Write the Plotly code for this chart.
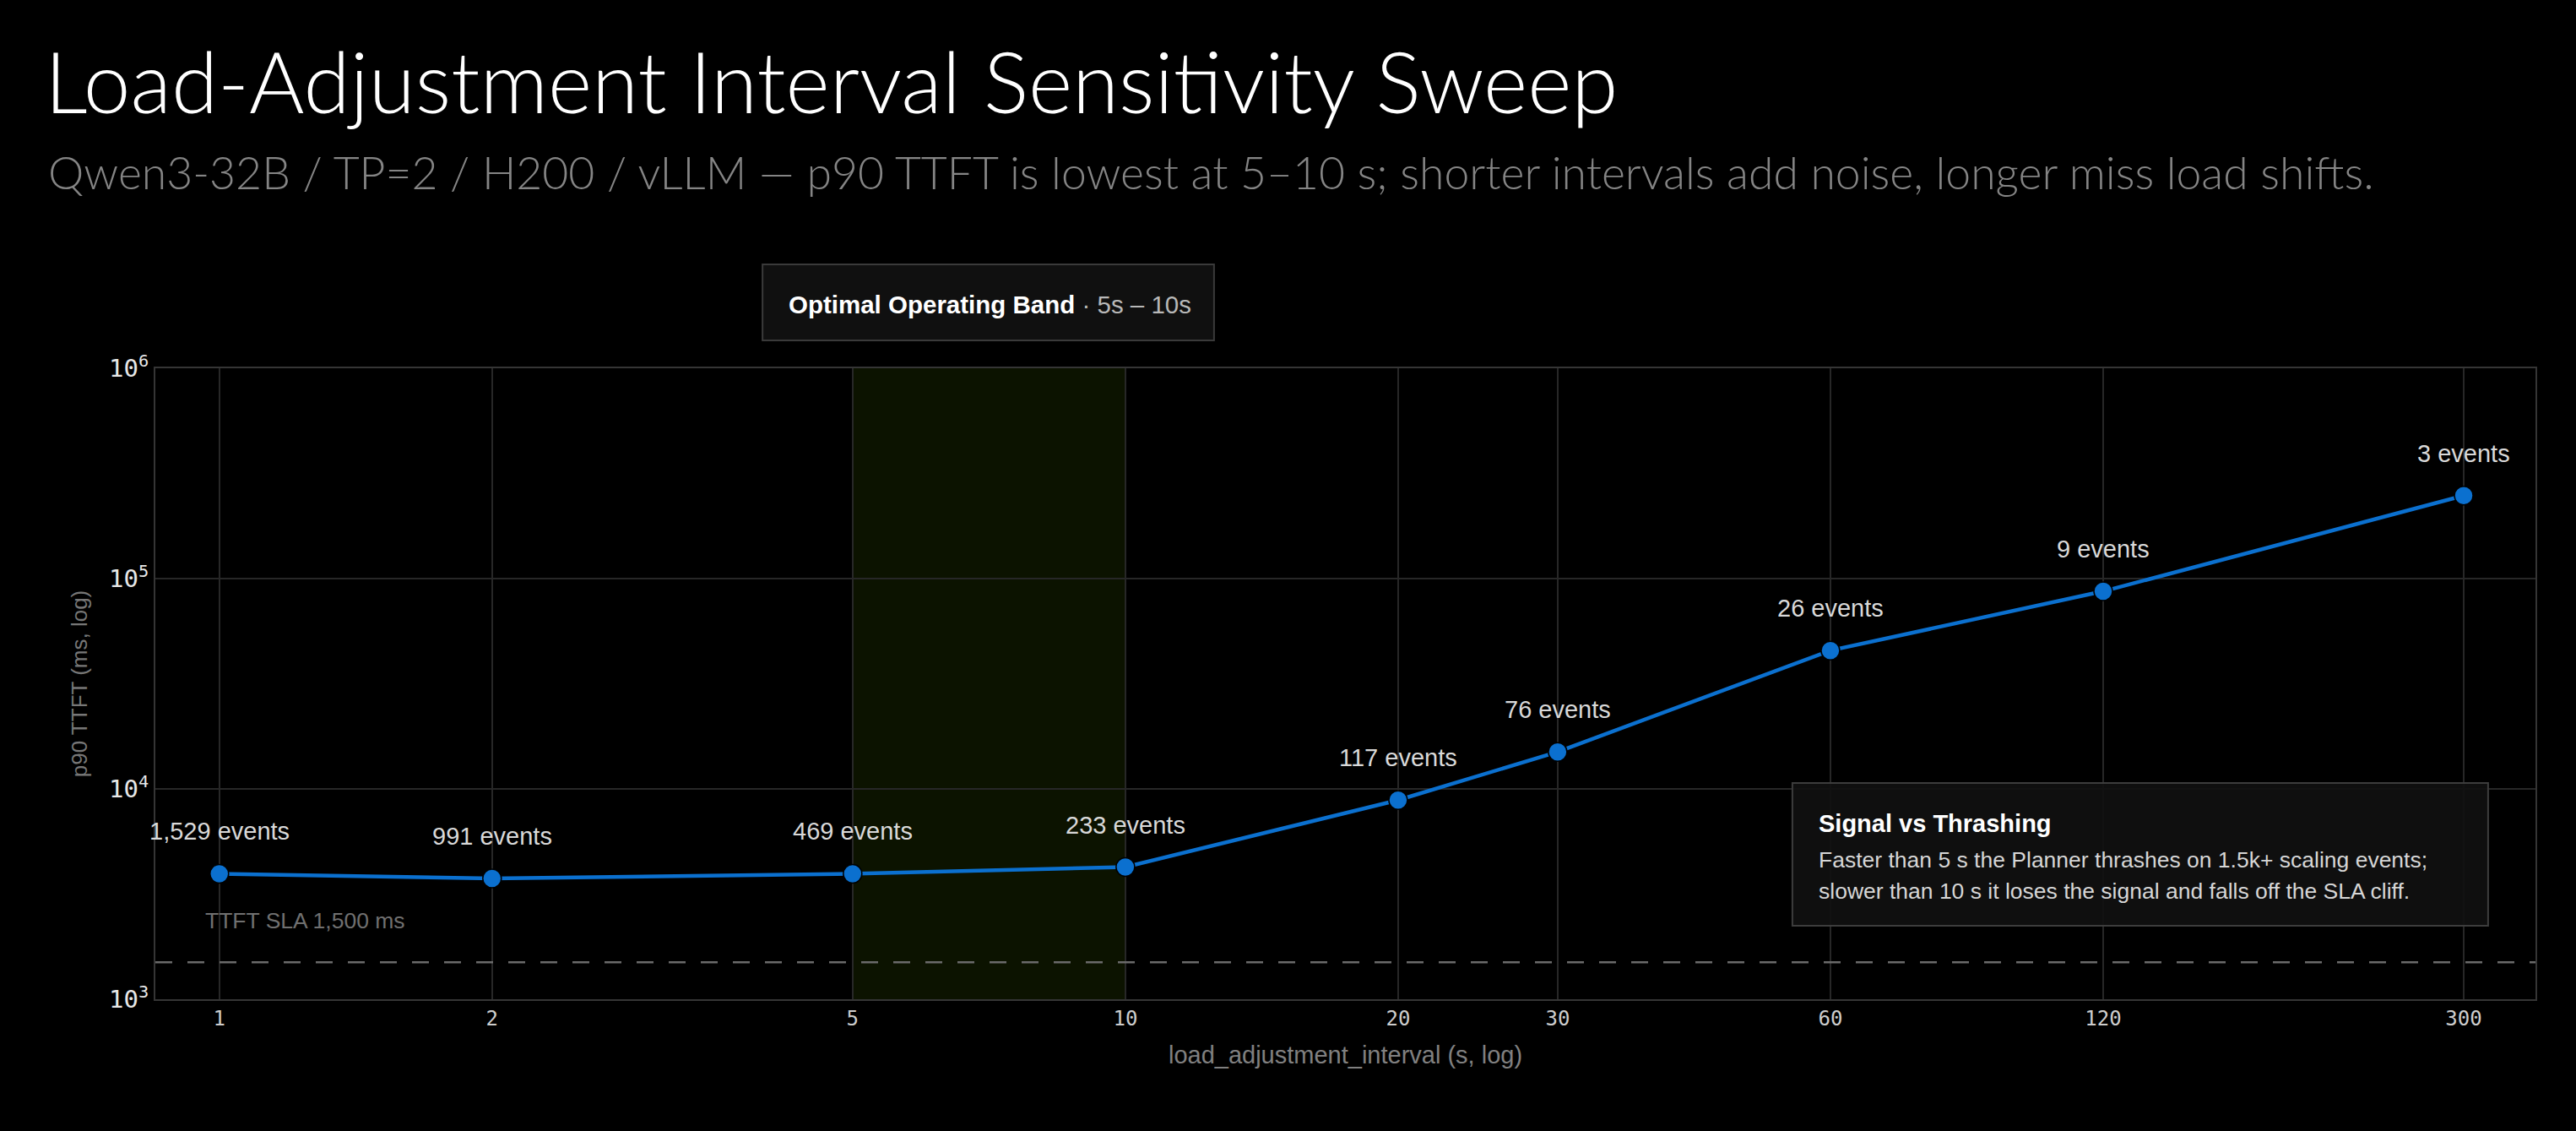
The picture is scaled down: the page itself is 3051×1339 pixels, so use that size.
import math
import plotly.graph_objects as go

# ---------------- data ----------------
intervals_s = [1, 2, 5, 10, 20, 30, 60, 120, 300]
p90_ttft_ms = [3950, 3750, 3950, 4250, 8850, 15000, 45500, 87000, 248000]
scaling_events = [1529, 991, 469, 233, 117, 76, 26, 9, 3]

x_tick_vals = [1, 2, 5, 10, 20, 30, 60, 120, 300]
x_tick_text = ["1", "2", "5", "10", "20", "30", "60", "120", "300"]
y_tick_vals = [1e3, 1e4, 1e5, 1e6]
y_tick_text = ["10<sup>3</sup>", "10<sup>4</sup>", "10<sup>5</sup>", "10<sup>6</sup>"]

sla_ms = 1500
band_s = [5, 10]

title_text = "Load-Adjustment Interval Sensitivity Sweep"
subtitle_text = ("Qwen3-32B / TP=2 / H200 / vLLM — p90 TTFT is lowest at 5–10 s; "
                 "shorter intervals add noise, longer miss load shifts.")
band_title = "Optimal Operating Band"
band_sub = " · 5s – 10s"
note_title = "Signal vs Thrashing"
note_lines = ["Faster than 5 s the Planner thrashes on 1.5k+ scaling events;",
              "slower than 10 s it loses the signal and falls off the SLA cliff."]

# ---------------- style ----------------
W, H = 3051, 1339
BODY = "Liberation Sans, Arial, sans-serif"
MONO = "DejaVu Sans Mono, monospace"
THIN = "Lato, Inter, sans-serif"
BLUE = "#0b70cf"
GRID = "#272727"
FRAME = "#353535"

fig = go.Figure()

fig.add_trace(go.Scatter(
    x=intervals_s, y=p90_ttft_ms, mode="lines+markers",
    line=dict(color=BLUE, width=4.5),
    marker=dict(size=22, color=BLUE, line=dict(color="#000000", width=1.5)),
    hoverinfo="skip", showlegend=False,
))

shapes = [
    # optimal band
    dict(type="rect", xref="x", yref="paper", x0=band_s[0], x1=band_s[1], y0=0, y1=1,
         fillcolor="rgba(118,185,0,0.10)", line=dict(width=0), layer="below"),
    # SLA line
    dict(type="line", xref="paper", yref="y", x0=0, x1=1, y0=sla_ms, y1=sla_ms,
         line=dict(color="#6a6a6a", width=2.5, dash="20px,18px"), layer="above"),
    # band label box
    dict(type="rect", xref="paper", yref="paper", x0=0.2551, x1=0.4448, y0=1.0442, y1=1.1647,
         fillcolor="#101010", line=dict(color="#3a3a3a", width=2), layer="above"),
    # note box
    dict(type="rect", xref="paper", yref="paper", x0=0.6878, x1=0.9801, y0=0.1165, y1=0.3427,
         fillcolor="rgba(16,16,16,0.92)", line=dict(color="#3d3d3d", width=2), layer="above"),
]

annotations = []
# data labels
for xv, yv, n in zip(intervals_s, p90_ttft_ms, scaling_events):
    annotations.append(dict(
        x=math.log10(xv), y=math.log10(yv), xref="x", yref="y",
        text=f"{n:,} events", showarrow=False, yshift=50,
        xanchor="center", yanchor="middle",
        font=dict(family=BODY, size=29, color="#d9d9d9"),
    ))
# SLA label
annotations.append(dict(
    x=0.0202, xref="paper", y=math.log10(sla_ms), yref="y", yshift=49,
    text=f"TTFT SLA {sla_ms:,} ms", showarrow=False, xanchor="left", yanchor="middle",
    font=dict(family=BODY, size=26.5, color="#707070"),
))
# band label
annotations.append(dict(
    x=0.3505, y=1.1017, xref="paper", yref="paper", showarrow=False,
    xanchor="center", yanchor="middle",
    text=f"<b>{band_title}</b><span style='color:#b8b8b8'>{band_sub}</span>",
    font=dict(family=BODY, size=29.5, color="#ffffff"),
))
# note box text
annotations.append(dict(
    x=0.6981, y=0.2784, xref="paper", yref="paper", showarrow=False,
    xanchor="left", yanchor="middle", text=f"<b>{note_title}</b>",
    font=dict(family=BODY, size=29, color="#ffffff"),
))
for yy, line in zip([0.2209, 0.1713], note_lines):
    annotations.append(dict(
        x=0.6981, y=yy, xref="paper", yref="paper", showarrow=False,
        xanchor="left", yanchor="middle", text=line,
        font=dict(family=BODY, size=26.5, color="#d6d6d6"),
    ))
# title & subtitle
annotations.append(dict(
    x=-0.0472, y=1.4565, xref="paper", yref="paper", showarrow=False,
    xanchor="left", yanchor="middle", text=title_text,
    font=dict(family=THIN, size=100, color="#ffffff", weight=300),
))
annotations.append(dict(
    x=-0.0458, y=1.3119, xref="paper", yref="paper", showarrow=False,
    xanchor="left", yanchor="middle", text=subtitle_text,
    font=dict(family=THIN, size=53.5, color="#858585", weight=300),
))

fig.update_layout(
    width=W, height=H,
    margin=dict(l=184, r=48, t=436, b=156, autoexpand=False),
    paper_bgcolor="#000000", plot_bgcolor="#000000",
    shapes=shapes, annotations=annotations,
    xaxis=dict(
        type="log", range=[math.log10(0.85), math.log10(360)],
        tickmode="array", tickvals=x_tick_vals, ticktext=x_tick_text,
        showgrid=True, gridcolor=GRID, gridwidth=1.5, zeroline=False,
        showline=True, linecolor=FRAME, linewidth=2, mirror=True, ticks="",
        tickfont=dict(family=MONO, size=24, color="#cdcdcd"),
        title=dict(text="load_adjustment_interval (s, log)", standoff=20,
                   font=dict(family=BODY, size=29, color="#808080")),
    ),
    yaxis=dict(
        type="log", range=[3, 6],
        tickmode="array", tickvals=y_tick_vals, ticktext=y_tick_text,
        showgrid=True, gridcolor=GRID, gridwidth=1.5, zeroline=False,
        showline=True, linecolor=FRAME, linewidth=2, mirror=True, ticks="",
        tickfont=dict(family=MONO, size=29, color="#e8e8e8"),
        title=dict(text="p90 TTFT (ms, log)", standoff=18,
                   font=dict(family=BODY, size=26, color="#777777")),
    ),
)

fig.write_html("out.html")
